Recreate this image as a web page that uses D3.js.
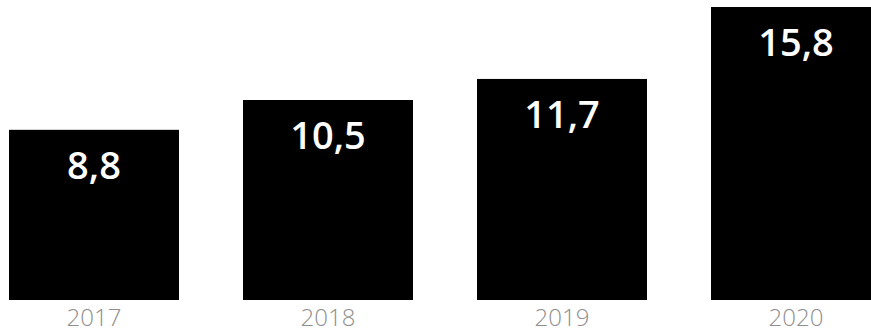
<!DOCTYPE html>
<html>
<head>
<meta charset="utf-8">
<script src="https://cdn.jsdelivr.net/npm/d3@7"></script>
<style>
  html, body { margin: 0; padding: 0; background: #fff; overflow: hidden; }
  svg { display: block; }
</style>
</head>
<body>
<svg id="chart" width="871" height="333"></svg>
<script>
const categories = ["2017", "2018", "2019", "2020"];
const values = [8.8, 10.5, 11.7, 15.8];
const valueLabels = ["8,8", "10,5", "11,7", "15,8"];

const svg = d3.select("#chart");
const baseY = 300;

const x = d3.scaleBand()
  .domain(categories)
  .range([9, 9 + 3 * 234 + 170])
  .paddingInner(64 / 234)
  .paddingOuter(0);

const y = d3.scaleLinear()
  .domain([-0.9, 16.2])
  .range([baseY, 0]);

const data = categories.map((c, i) => ({ cat: c, v: values[i], label: valueLabels[i] }));

svg.selectAll("rect.bar")
  .data(data)
  .join("rect")
  .attr("class", "bar")
  .attr("x", d => x(d.cat))
  .attr("y", d => y(d.v))
  .attr("width", x.bandwidth())
  .attr("height", d => baseY - y(d.v))
  .attr("fill", "#000");

svg.selectAll("text.val")
  .data(data)
  .join("text")
  .attr("class", "val")
  .attr("x", d => x(d.cat) + x.bandwidth() / 2)
  .attr("y", d => y(d.v) + 49)
  .attr("text-anchor", "middle")
  .attr("fill", "#fff")
  .style("font-family", "'Open Sans', sans-serif")
  .style("font-weight", 600)
  .style("font-size", "38px")
  .text(d => d.label);

const xAxis = d3.axisBottom(x).tickSize(0).tickPadding(0);
const gx = svg.append("g")
  .attr("transform", `translate(0,${baseY})`)
  .call(xAxis);
gx.select(".domain").remove();
gx.selectAll("text")
  .attr("dy", null)
  .attr("y", 26)
  .attr("fill", "#8f8f8f")
  .style("font-family", "'Open Sans', sans-serif")
  .style("font-weight", 300)
  .style("font-size", "24px");
</script>
</body>
</html>
